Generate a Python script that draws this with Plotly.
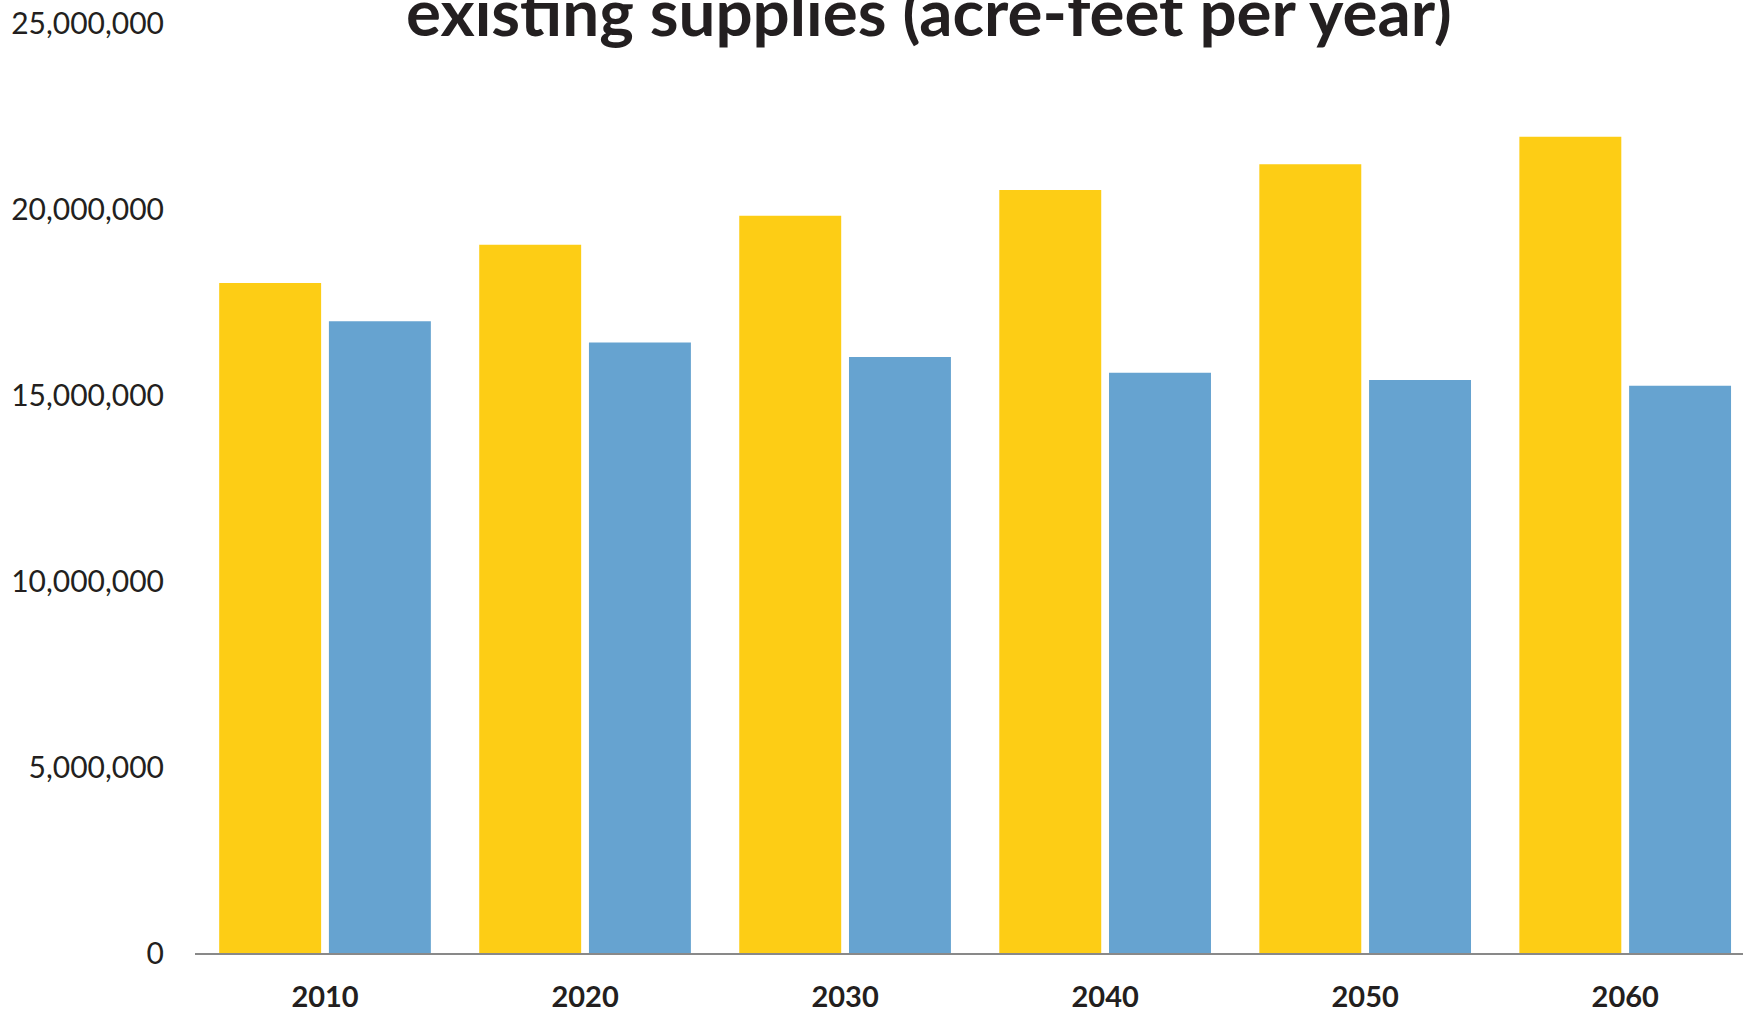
import plotly.graph_objects as go

years = ["2010", "2020", "2030", "2040", "2050", "2060"]
demands = [18010000, 19040000, 19820000, 20510000, 21200000, 21940000]
supplies = [16980000, 16410000, 16020000, 15600000, 15400000, 15250000]
y_ticks = [0, 5000000, 10000000, 15000000, 20000000, 25000000]
y_tick_labels = ["0", "5,000,000", "10,000,000", "15,000,000", "20,000,000", "25,000,000"]
title_text = "existing supplies (acre-feet per year)"

FONT = "Lato"
TXT = "#231F20"

fig = go.Figure()
fig.add_trace(go.Bar(x=years, y=demands, name="Demands", marker=dict(color="#FDCD15", line=dict(width=0))))
fig.add_trace(go.Bar(x=years, y=supplies, name="Existing supplies", marker=dict(color="#66A3D0", line=dict(width=0))))

fig.update_layout(
    width=1743, height=1013,
    margin=dict(l=195, r=0, t=23, b=60),
    paper_bgcolor="white", plot_bgcolor="white",
    barmode="group", bargap=0.156, bargroupgap=0.071,
    showlegend=False,
    font=dict(family=FONT, color=TXT),
)
fig.update_yaxes(
    range=[0, 25000000], tickvals=y_ticks, ticktext=y_tick_labels,
    showgrid=False, zeroline=False, showline=False, automargin=False,
    tickfont=dict(family=FONT, size=30, color=TXT),
    ticklabelstandoff=30,
)
fig.update_xaxes(
    range=[-0.5, 5.453],
    showgrid=False, showline=True, linecolor="#898989", linewidth=2, automargin=False,
    tickfont=dict(family=FONT, size=29, color=TXT, weight="bold"),
    ticks="", ticklabelstandoff=17,
)
fig.add_annotation(
    text="<b>" + title_text + "</b>", xref="paper", yref="paper",
    x=(929 - 195) / 1548, y=1.0, yshift=13, xanchor="center", yanchor="middle", showarrow=False,
    font=dict(family=FONT, size=65.5, color=TXT),
)
fig.write_html(
    "out.html",
    config={"displayModeBar": False},
    post_script="document.body.style.margin='0';document.body.style.overflow='hidden';",
)
